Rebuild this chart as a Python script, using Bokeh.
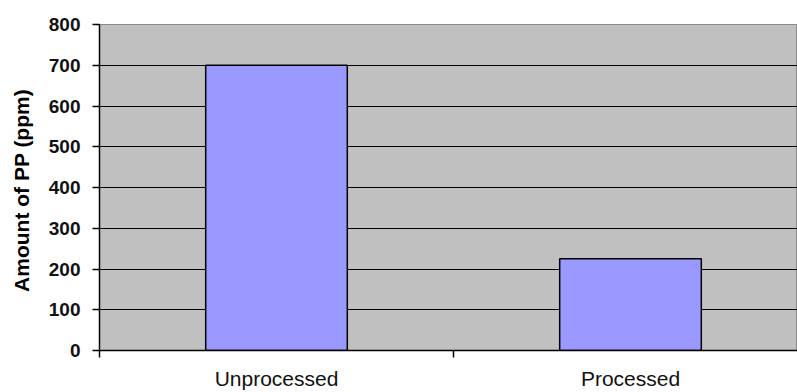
from bokeh.plotting import figure
from bokeh.models import Range1d, FixedTicker, LinearAxis
from bokeh.embed import file_html
from bokeh.resources import INLINE

# ---- data ----
categories = ["Unprocessed", "Processed"]
values = [700, 225]
y_ticks = [0, 100, 200, 300, 400, 500, 600, 700, 800]
y_label = "Amount of PP  (ppm)"

W, H = 797, 392
left, top, bottom = 99, 24, 42
cat_px = 354  # pixel width of one category slot

centers = [i + 0.5 for i in range(len(categories))]
bounds = [float(i) for i in range(len(categories) + 1)]
x_end = (W - left) / cat_px

p = figure(width=W, height=H, output_backend="svg", toolbar_location=None,
           x_range=Range1d(0, x_end), y_range=Range1d(0, 800),
           x_axis_location=None, y_axis_location=None,
           min_border_left=left, min_border_right=0,
           min_border_top=top, min_border_bottom=bottom)

p.background_fill_color = "#C0C0C0"
p.border_fill_color = "white"
p.outline_line_color = "#8C8C8C"
p.outline_line_width = 1

p.vbar(x=centers, top=values, width=0.4, bottom=0,
       fill_color="#9999FF", line_color="black", line_width=1.5)

# y axis
yaxis = LinearAxis(ticker=FixedTicker(ticks=y_ticks, minor_ticks=[]))
yaxis.axis_line_color = "black"
yaxis.axis_line_width = 1.5
yaxis.major_tick_out = 7
yaxis.major_tick_in = 0
yaxis.major_tick_line_color = "black"
yaxis.major_tick_line_width = 1.5
yaxis.minor_tick_line_color = None
yaxis.major_label_standoff = 12
yaxis.major_label_text_font = "Liberation Sans"
yaxis.major_label_text_font_style = "bold"
yaxis.major_label_text_font_size = "19px"
yaxis.major_label_text_color = "#111111"
yaxis.axis_label = y_label
yaxis.axis_label_text_font = "Liberation Sans"
yaxis.axis_label_text_font_style = "bold"
yaxis.axis_label_text_font_size = "21px"
yaxis.axis_label_text_color = "black"
yaxis.axis_label_standoff = 13
p.add_layout(yaxis, "left")

# x axis
xaxis = LinearAxis(ticker=FixedTicker(ticks=centers, minor_ticks=bounds))
xaxis.major_label_overrides = {c: name for c, name in zip(centers, categories)}
xaxis.axis_line_color = "black"
xaxis.axis_line_width = 1.5
xaxis.major_tick_out = 0
xaxis.major_tick_in = 0
xaxis.major_tick_line_color = None
xaxis.minor_tick_out = 7
xaxis.minor_tick_in = 0
xaxis.minor_tick_line_color = "black"
xaxis.minor_tick_line_width = 1.5
xaxis.major_label_standoff = 9
xaxis.major_label_text_font = "Liberation Sans"
xaxis.major_label_text_font_style = "normal"
xaxis.major_label_text_font_size = "21px"
xaxis.major_label_text_color = "#111111"
p.add_layout(xaxis, "below")

p.xgrid.visible = False
p.ygrid.ticker = FixedTicker(ticks=y_ticks[1:-1])
p.ygrid.grid_line_color = "black"
p.ygrid.grid_line_width = 1.2

open("out.html", "w").write(file_html(p, INLINE))
